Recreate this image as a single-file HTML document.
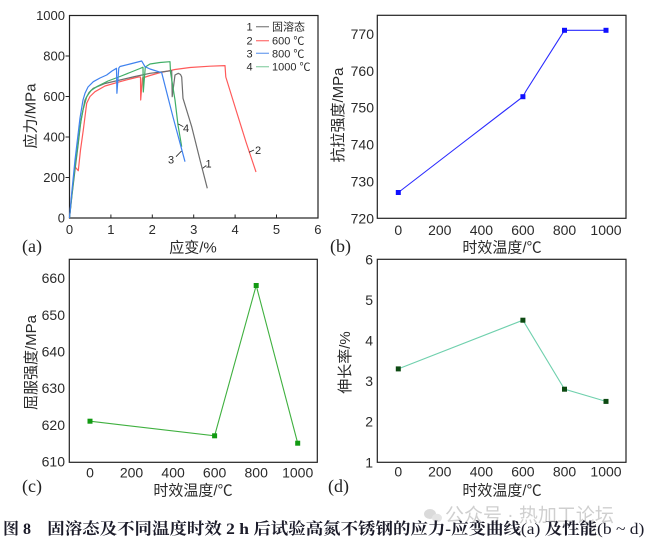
<!DOCTYPE html>
<html><head><meta charset="utf-8">
<style>
html,body{margin:0;padding:0;background:#fff;}
svg{display:block;}
.t{font-family:"Liberation Sans","Noto Sans CJK SC",sans-serif;fill:#2a2a2a;}
.tk{font-size:14px;}
.tka{font-size:13px;}
.ti{font-size:15px;}
.lg{font-size:11px;}
.pl{font-family:"Liberation Serif",serif;font-size:18px;fill:#222;}
</style></head>
<body>
<svg width="646" height="543" viewBox="0 0 646 543" xmlns="http://www.w3.org/2000/svg">
<rect width="646" height="543" fill="#fff"/>

<!-- ============ Panel (a) ============ -->
<rect x="69.5" y="15.5" width="248.5" height="202.5" fill="none" stroke="#222" stroke-width="1.2"/>
<g stroke="#222" stroke-width="1">
<line x1="65.5" y1="177.5" x2="69.5" y2="177.5"/>
<line x1="65.5" y1="137" x2="69.5" y2="137"/>
<line x1="65.5" y1="96.5" x2="69.5" y2="96.5"/>
<line x1="65.5" y1="56" x2="69.5" y2="56"/>
<line x1="110.9" y1="218" x2="110.9" y2="214.5"/>
<line x1="152.3" y1="218" x2="152.3" y2="214.5"/>
<line x1="193.7" y1="218" x2="193.7" y2="214.5"/>
<line x1="235.1" y1="218" x2="235.1" y2="214.5"/>
<line x1="276.5" y1="218" x2="276.5" y2="214.5"/>
</g>
<g class="t tka" text-anchor="end">
<text x="65" y="222.5">0</text>
<text x="65" y="182">200</text>
<text x="65" y="141.5">400</text>
<text x="65" y="101">600</text>
<text x="65" y="60.5">800</text>
<text x="65" y="20">1000</text>
</g>
<g class="t tka" text-anchor="middle">
<text x="69.5" y="234">0</text>
<text x="110.9" y="234">1</text>
<text x="152.3" y="234">2</text>
<text x="193.7" y="234">3</text>
<text x="235.1" y="234">4</text>
<text x="276.5" y="234">5</text>
<text x="317.9" y="234">6</text>
</g>
<text class="t ti" x="193" y="252.5" text-anchor="middle">应变/%</text>
<text class="t ti" transform="translate(30.8,116) rotate(-90)" text-anchor="middle" dominant-baseline="central">应力/MPa</text>
<text class="pl" x="22" y="252">(a)</text>

<g fill="none" stroke-width="1.2" stroke-linejoin="round">
<polyline stroke="#ff5a5a" points="69.5,218 72,192 75,166.7 78.3,170.7 80.5,150 83.3,130 86.7,103.3 90,96.5 95,91.7 105,86 120,81.7 130,79 138.3,77 140.5,77 140.7,100 142.4,78 150,75.5 160,72.7 175,69.5 190,67.5 210,66.2 225,65.6 225.8,77 236,110 246,142 256,172"/>
<polyline stroke="#6e6e6e" points="69.5,218 72,195 75,170 78.3,143.3 81,120 85,100 89,92.5 93.3,88.3 105,83.5 120,80 135,76.5 150,73.3 165,71.5 171.7,70.7 172.2,96.7 175,75 178.3,73.3 180.5,74.5 181.7,77 183,98.3 191.7,126.7 200,160 207.3,188.3"/>
<polyline stroke="#3fae66" points="69.5,218 72,194 75,166.7 77.5,148 80,126.7 83,110 86.7,96.7 91,90.5 96.7,86.7 108,81 120,76.5 130,72.5 140,68.5 143,67.2 143.3,92 145.3,67 150,64 160,62.5 170,61.7 170.5,72 175,100 178,125 181.7,146.7"/>
<polyline stroke="#3f82ef" points="69.5,218 72,190 75,160 80,118 83,100 85,93.3 88,87 93.3,81.7 100,78 106.7,75 112,71 116.5,68.3 116.9,93.3 118.8,68 120,66.5 130,64 141.7,61 145,66.7 150,69 161.7,72.7 173,117 185,161.7"/>
</g>
<g stroke="#222" stroke-width="0.8">
<line x1="202.7" y1="168.3" x2="206.3" y2="165.5"/>
<line x1="249" y1="152.3" x2="254" y2="150"/>
<line x1="176" y1="156.7" x2="181.5" y2="151"/>
<line x1="178.3" y1="124" x2="183.3" y2="126.7"/>
</g>
<g class="t" font-size="11">
<text x="205.5" y="167.5">1</text>
<text x="255" y="154">2</text>
<text x="168" y="163.5">3</text>
<text x="183" y="132">4</text>
</g>
<g class="t lg">
<text x="246.5" y="30.7">1</text>
<text x="246.5" y="44.7">2</text>
<text x="246.5" y="57.3">3</text>
<text x="246.5" y="70.7">4</text>
<text x="272" y="30.7">固溶态</text>
<text x="272" y="44.7">600 ℃</text>
<text x="272" y="57.3">800 ℃</text>
<text x="272" y="70.7">1000 ℃</text>
</g>
<g stroke-width="1.3">
<line x1="256" y1="26.7" x2="269" y2="26.7" stroke="#8a8a8a"/>
<line x1="256" y1="40.7" x2="269" y2="40.7" stroke="#ff7a7a"/>
<line x1="256" y1="53.3" x2="269" y2="53.3" stroke="#78a6f0"/>
<line x1="256" y1="66.7" x2="269" y2="66.7" stroke="#96d4ae"/>
</g>

<!-- ============ Panel (b) ============ -->
<rect x="377.3" y="15.3" width="248.7" height="203" fill="none" stroke="#222" stroke-width="1.2"/>
<g class="t tk" text-anchor="end">
<text x="374" y="223.3">720</text>
<text x="374" y="186.4">730</text>
<text x="374" y="149.6">740</text>
<text x="374" y="112.7">750</text>
<text x="374" y="75.9">760</text>
<text x="374" y="39">770</text>
</g>
<g class="t tk" text-anchor="middle">
<text x="398.3" y="235">0</text>
<text x="439.8" y="235">200</text>
<text x="481.4" y="235">400</text>
<text x="522.9" y="235">600</text>
<text x="564.5" y="235">800</text>
<text x="606" y="235">1000</text>
</g>
<text class="t ti" x="502" y="252.5" text-anchor="middle">时效温度/℃</text>
<text class="t ti" transform="translate(338.3,115) rotate(-90)" text-anchor="middle" dominant-baseline="central">抗拉强度/MPa</text>
<text class="pl" x="330" y="252">(b)</text>
<polyline fill="none" stroke="#2a2aff" stroke-width="1.1" points="398.3,192.5 460,145 522.9,96.7 526,91 564.5,30.3 606,30.3"/>
<g fill="#1010ff">
<rect x="395.8" y="190" width="5" height="5"/>
<rect x="520.4" y="94.2" width="5" height="5"/>
<rect x="562" y="27.8" width="5" height="5"/>
<rect x="603.5" y="27.8" width="5" height="5"/>
</g>

<!-- ============ Panel (c) ============ -->
<rect x="69.3" y="259.3" width="248" height="203" fill="none" stroke="#222" stroke-width="1.2"/>
<g class="t tk" text-anchor="end">
<text x="65" y="466.5">610</text>
<text x="65" y="429.8">620</text>
<text x="65" y="393.2">630</text>
<text x="65" y="356.5">640</text>
<text x="65" y="319.8">650</text>
<text x="65" y="283.2">660</text>
</g>
<g class="t tk" text-anchor="middle">
<text x="90" y="477.7">0</text>
<text x="131.5" y="477.7">200</text>
<text x="173.1" y="477.7">400</text>
<text x="214.6" y="477.7">600</text>
<text x="256.2" y="477.7">800</text>
<text x="297.7" y="477.7">1000</text>
</g>
<text class="t ti" x="193" y="495.5" text-anchor="middle">时效温度/℃</text>
<text class="t ti" transform="translate(31.7,362.5) rotate(-90)" text-anchor="middle" dominant-baseline="central">屈服强度/MPa</text>
<text class="pl" x="22" y="492">(c)</text>
<polyline fill="none" stroke="#3fb03f" stroke-width="1.1" points="90,421.2 214.6,435.8 256.2,285.5 297.7,443.2"/>
<g fill="#129a12">
<rect x="87.5" y="418.7" width="5" height="5"/>
<rect x="212.1" y="433.3" width="5" height="5"/>
<rect x="253.7" y="283" width="5" height="5"/>
<rect x="295.2" y="440.7" width="5" height="5"/>
</g>

<!-- ============ Panel (d) ============ -->
<rect x="377.3" y="259.3" width="248.7" height="203" fill="none" stroke="#222" stroke-width="1.2"/>
<g class="t tk" text-anchor="end">
<text x="373" y="467.3">1</text>
<text x="373" y="426.7">2</text>
<text x="373" y="386.1">3</text>
<text x="373" y="345.5">4</text>
<text x="373" y="304.9">5</text>
<text x="373" y="264.3">6</text>
</g>
<g class="t tk" text-anchor="middle">
<text x="398.3" y="476.7">0</text>
<text x="439.8" y="476.7">200</text>
<text x="481.4" y="476.7">400</text>
<text x="522.9" y="476.7">600</text>
<text x="564.5" y="476.7">800</text>
<text x="606" y="476.7">1000</text>
</g>
<text class="t ti" x="502" y="495.5" text-anchor="middle">时效温度/℃</text>
<text class="t ti" transform="translate(345.7,362.5) rotate(-90)" text-anchor="middle" dominant-baseline="central">伸长率/%</text>
<text class="pl" x="328" y="492">(d)</text>
<polyline fill="none" stroke="#6fd0ad" stroke-width="1.1" points="398.3,368.9 522.9,320.2 564.5,389.2 606,401.4"/>
<g fill="#0d4a12">
<rect x="395.8" y="366.4" width="5" height="5"/>
<rect x="520.4" y="317.7" width="5" height="5"/>
<rect x="562" y="386.7" width="5" height="5"/>
<rect x="603.5" y="398.9" width="5" height="5"/>
</g>

<!-- watermark -->
<g opacity="0.55">
<ellipse cx="430" cy="514" rx="6" ry="5" fill="#bdbdbd"/>
<ellipse cx="437" cy="518" rx="5" ry="4.2" fill="#cfcfcf"/>
<text x="445" y="521.5" font-family="'Liberation Sans','Noto Sans CJK SC',sans-serif" font-size="19" fill="#a8a8a8">公众号 · 热加工论坛</text>
</g>

<!-- caption -->
<text x="3" y="534" font-family="'Liberation Serif','Noto Serif CJK SC',serif" font-weight="bold" font-size="16" fill="#1c1c2a">图 8</text>
<text x="47.3" y="534" font-family="'Liberation Serif','Noto Serif CJK SC',serif" font-weight="bold" font-size="16" fill="#1c1c2a" textLength="597" lengthAdjust="spacingAndGlyphs">固溶态及不同温度时效 2 h 后试验高氮不锈钢的应力-应变曲线<tspan font-weight="normal">(a)</tspan> 及性能<tspan font-weight="normal">(b ~ d)</tspan></text>
</svg>
</body></html>
